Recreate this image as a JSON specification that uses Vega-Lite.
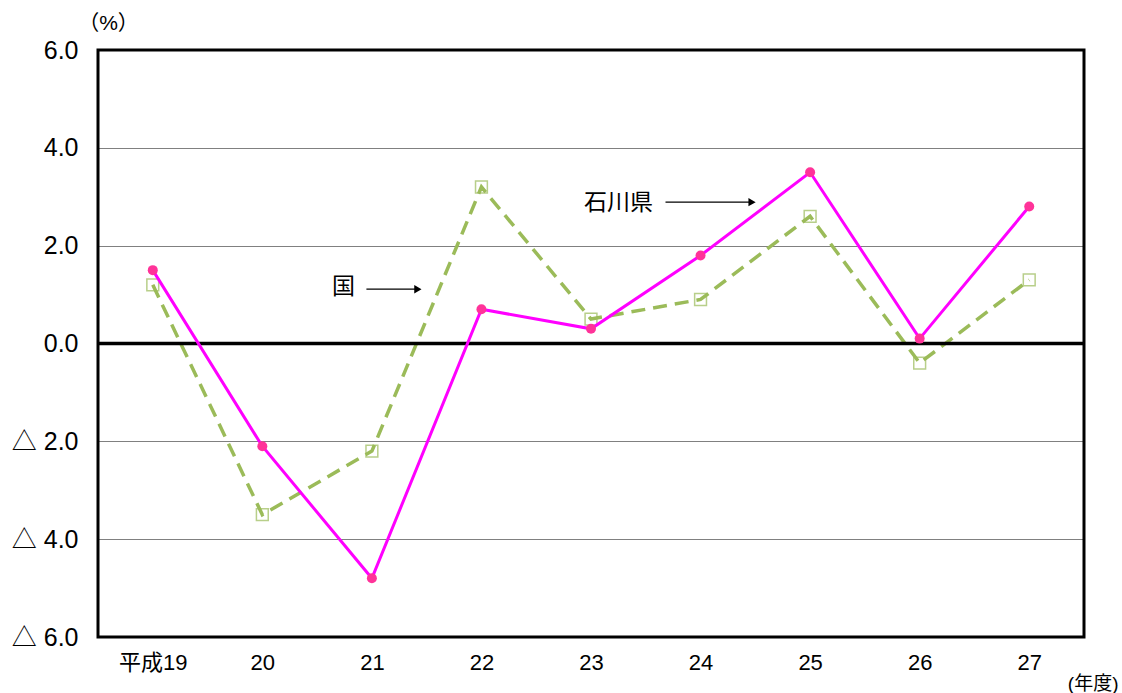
{
  "$schema": "https://vega.github.io/schema/vega-lite/v6.json",
  "width": 986,
  "height": 587,
  "autosize": "none",
  "padding": {"left": 98, "top": 50, "right": 38, "bottom": 56},
  "background": "white",
  "config": {
    "font": "Liberation Sans, Noto Sans CJK JP",
    "view": {"stroke": "black", "strokeWidth": 3}
  },
  "datasets": {
    "series": [
      {"year": "平成19", "series": "国", "value": 1.2},
      {"year": "20", "series": "国", "value": -3.5},
      {"year": "21", "series": "国", "value": -2.2},
      {"year": "22", "series": "国", "value": 3.2},
      {"year": "23", "series": "国", "value": 0.5},
      {"year": "24", "series": "国", "value": 0.9},
      {"year": "25", "series": "国", "value": 2.6},
      {"year": "26", "series": "国", "value": -0.4},
      {"year": "27", "series": "国", "value": 1.3},
      {"year": "平成19", "series": "石川県", "value": 1.5},
      {"year": "20", "series": "石川県", "value": -2.1},
      {"year": "21", "series": "石川県", "value": -4.8},
      {"year": "22", "series": "石川県", "value": 0.7},
      {"year": "23", "series": "石川県", "value": 0.3},
      {"year": "24", "series": "石川県", "value": 1.8},
      {"year": "25", "series": "石川県", "value": 3.5},
      {"year": "26", "series": "石川県", "value": 0.1},
      {"year": "27", "series": "石川県", "value": 2.8}
    ],
    "labels": [
      {"label": "石川県", "x": 4.75, "y": 2.87},
      {"label": "国", "x": 2.24, "y": 1.15}
    ],
    "arrows": [
      {"x": 5.18, "x2": 5.97, "y": 2.89},
      {"x": 2.45, "x2": 2.92, "y": 1.11}
    ],
    "zero": [
      {"x": 0, "x2": 9, "y": 0}
    ]
  },
  "resolve": {"scale": {"x": "independent"}},
  "layer": [
    {
      "data": {"name": "series"},
      "transform": [{"filter": "datum.series === '国'"}],
      "mark": {"type": "line", "color": "#9BBB59", "strokeWidth": 3.5, "strokeDash": [14, 8]},
      "encoding": {
        "x": {
          "field": "year", "type": "ordinal", "sort": null,
          "scale": {"type": "point", "padding": 0.5},
          "axis": {
            "title": "(年度)", "titleFontSize": 19, "titleFontWeight": "normal", "titleColor": "black",
            "titleX": 1020, "titleY": 46, "titleAlign": "right", "titleBaseline": "middle",
            "labelAngle": 0, "labelFontSize": 22, "labelColor": "black", "labelPadding": 15,
            "ticks": false, "domain": false, "grid": false
          }
        },
        "y": {
          "field": "value", "type": "quantitative",
          "scale": {"domain": [-6, 6], "nice": false},
          "axis": {
            "values": [-6, -4, -2, 0, 2, 4, 6],
            "labelExpr": "datum.value < 0 ? '△ ' + format(-datum.value, '.1f') : format(datum.value, '.1f')",
            "title": "（%）", "titleAngle": 0, "titleFontSize": 21, "titleFontWeight": "normal", "titleColor": "black",
            "titleX": 10, "titleY": -27, "titleAlign": "center", "titleBaseline": "middle",
            "labelFontSize": 25, "labelColor": "black", "labelPadding": 20,
            "ticks": false, "domain": false,
            "grid": true, "gridColor": "#000000", "gridWidth": 1, "gridDash": [1, 1], "gridOpacity": 1
          }
        }
      }
    },
    {
      "data": {"name": "series"},
      "transform": [{"filter": "datum.series === '国'"}],
      "mark": {"type": "point", "shape": "square", "filled": false, "color": "#9BBB59", "strokeWidth": 1.5, "size": 140},
      "encoding": {
        "x": {"field": "year", "type": "ordinal", "sort": null, "scale": {"type": "point", "padding": 0.5}, "axis": null},
        "y": {"field": "value", "type": "quantitative", "scale": {"domain": [-6, 6], "nice": false}}
      }
    },
    {
      "data": {"name": "zero"},
      "mark": {"type": "rule", "color": "black", "strokeWidth": 3.5},
      "encoding": {
        "x": {"field": "x", "type": "quantitative", "scale": {"domain": [0, 9], "nice": false, "zero": false}, "axis": null},
        "x2": {"field": "x2"},
        "y": {"field": "y", "type": "quantitative", "scale": {"domain": [-6, 6], "nice": false}}
      }
    },
    {
      "data": {"name": "series"},
      "transform": [{"filter": "datum.series === '石川県'"}],
      "mark": {"type": "line", "color": "#FF00FF", "strokeWidth": 3},
      "encoding": {
        "x": {"field": "year", "type": "ordinal", "sort": null, "scale": {"type": "point", "padding": 0.5}, "axis": null},
        "y": {"field": "value", "type": "quantitative", "scale": {"domain": [-6, 6], "nice": false}}
      }
    },
    {
      "data": {"name": "series"},
      "transform": [{"filter": "datum.series === '石川県'"}],
      "mark": {"type": "point", "shape": "circle", "filled": true, "color": "#FF3399", "opacity": 1, "size": 100},
      "encoding": {
        "x": {"field": "year", "type": "ordinal", "sort": null, "scale": {"type": "point", "padding": 0.5}, "axis": null},
        "y": {"field": "value", "type": "quantitative", "scale": {"domain": [-6, 6], "nice": false}}
      }
    },
    {
      "data": {"name": "labels"},
      "mark": {"type": "text", "fontSize": 23, "color": "black", "align": "center", "baseline": "middle"},
      "encoding": {
        "x": {"field": "x", "type": "quantitative", "scale": {"domain": [0, 9], "nice": false, "zero": false}, "axis": null},
        "y": {"field": "y", "type": "quantitative", "scale": {"domain": [-6, 6], "nice": false}},
        "text": {"field": "label"}
      }
    },
    {
      "data": {"name": "arrows"},
      "mark": {"type": "rule", "color": "black", "strokeWidth": 1.2},
      "encoding": {
        "x": {"field": "x", "type": "quantitative", "scale": {"domain": [0, 9], "nice": false, "zero": false}, "axis": null},
        "x2": {"field": "x2"},
        "y": {"field": "y", "type": "quantitative", "scale": {"domain": [-6, 6], "nice": false}}
      }
    },
    {
      "data": {"name": "arrows"},
      "mark": {"type": "point", "shape": "triangle-right", "filled": true, "color": "black", "opacity": 1, "size": 70},
      "encoding": {
        "x": {"field": "x2", "type": "quantitative", "scale": {"domain": [0, 9], "nice": false, "zero": false}, "axis": null},
        "y": {"field": "y", "type": "quantitative", "scale": {"domain": [-6, 6], "nice": false}}
      }
    }
  ]
}
